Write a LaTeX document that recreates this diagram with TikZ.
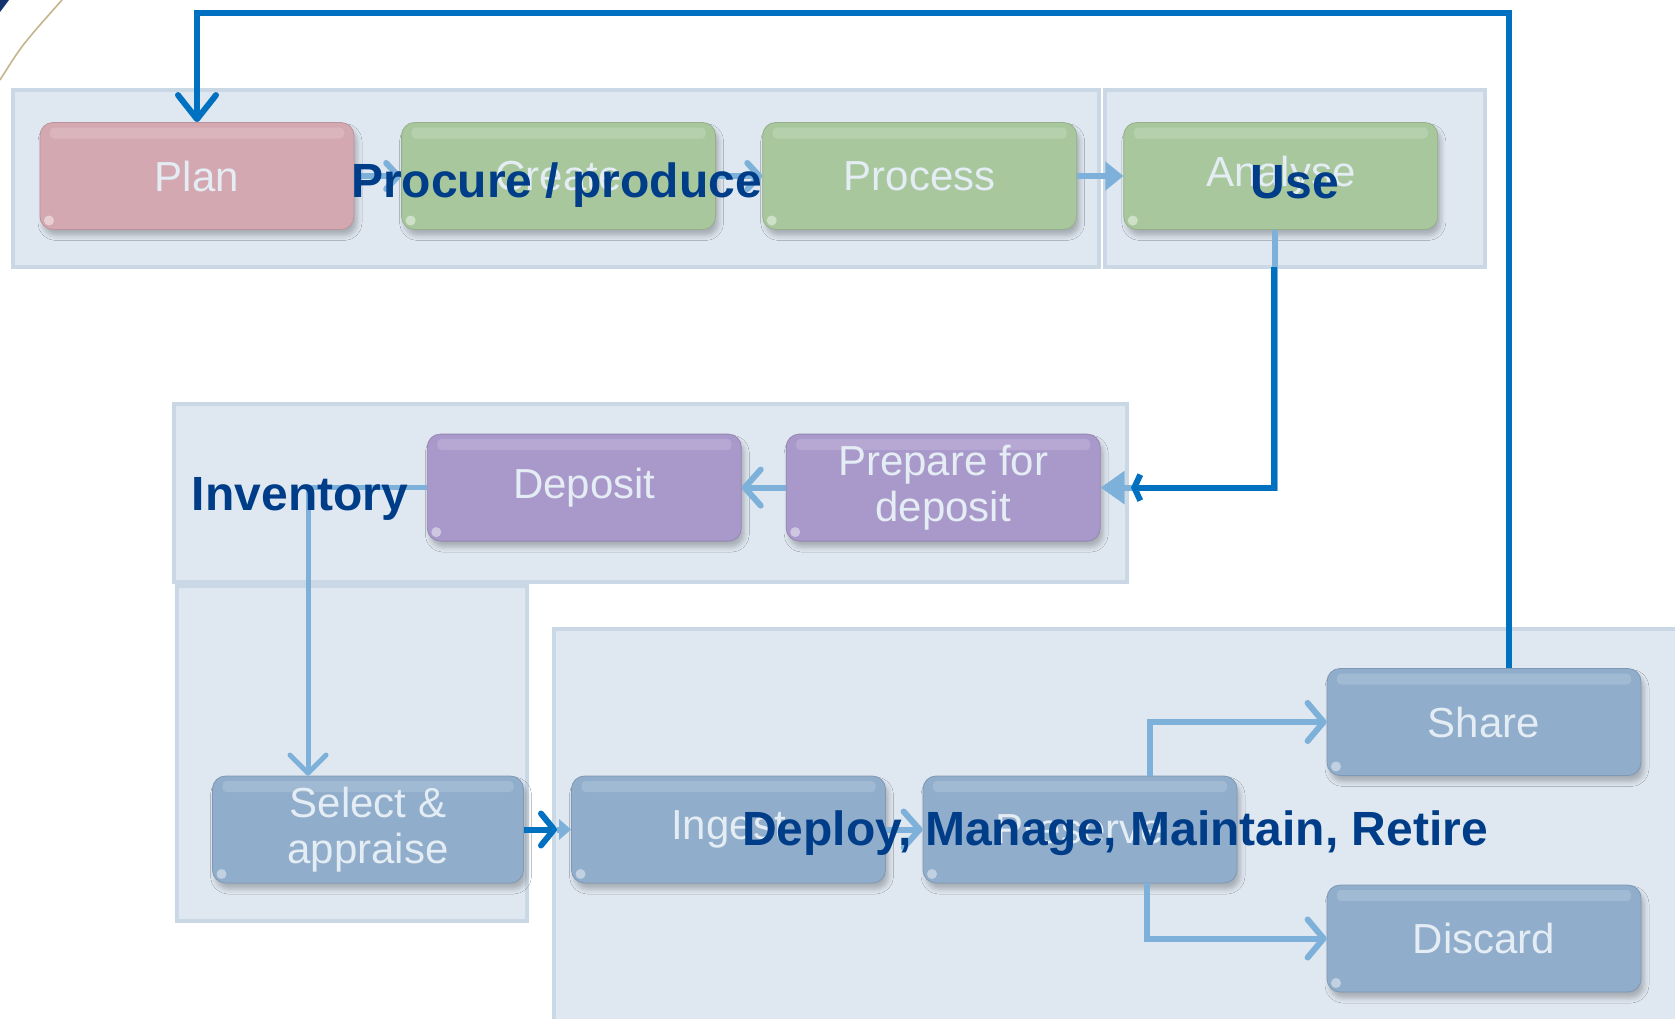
\documentclass[tikz,border=0pt]{standalone}
\usepackage{fontspec}
\setmainfont{Liberation Sans}
\usetikzlibrary{arrows.meta,shadows.blur}

\definecolor{grpfill}{RGB}{223,231,240}
\definecolor{grpline}{RGB}{202,216,230}
\definecolor{planfill}{RGB}{212,168,176}
\definecolor{greenfill}{RGB}{168,199,157}
\definecolor{purplefill}{RGB}{169,152,202}
\definecolor{bluefill}{RGB}{144,173,203}
\definecolor{boxtext}{RGB}{228,236,244}
\definecolor{darkline}{RGB}{0,112,192}
\definecolor{lightline}{RGB}{126,177,217}
\definecolor{headtext}{RGB}{0,61,136}
\definecolor{swoosh}{RGB}{196,182,140}
\definecolor{navycorner}{RGB}{20,50,110}

\begin{document}
\begin{tikzpicture}[x=1pt,y=-1pt,
  group/.style={fill=grpfill, draw=grpline, line width=4pt},
  stage/.style={rectangle, rounded corners=13pt, minimum width=314pt,
    minimum height=107pt, inner sep=2pt, fill=#1, draw=#1!88!black,
    line width=0.8pt, text=boxtext, font=\fontsize{42}{46}\selectfont,
    align=center,
    blur shadow={shadow xshift=3pt, shadow yshift=-6pt, shadow opacity=25,
      shadow blur radius=5pt},
    path picture={
      \fill[white, opacity=0.16, rounded corners=4pt]
        ([xshift=10pt,yshift=-5pt]path picture bounding box.north west)
        rectangle ([xshift=-10pt,yshift=-16pt]path picture bounding box.north east);
      \fill[white, opacity=0.45]
        ([xshift=9pt,yshift=9pt]path picture bounding box.south west) circle (5pt);
    }},
  lightconn/.style={draw=lightline, line width=6pt},
  darkconn/.style={draw=darkline, line width=6pt},
  barb/.style={-{Straight Barb[length=16pt,width=36pt,round]}},
  phase/.style={text=headtext, font=\fontsize{48}{52}\selectfont\bfseries, anchor=base}
]
\path[use as bounding box] (0,0) rectangle (1675,1018);
\clip (0,0) rectangle (1675,1018);
\fill[white] (0,0) rectangle (1675,1018);

% template swooshes in the corners
\fill[navycorner] (0,0) -- (9,0) -- (0,12) -- cycle;
\draw[swoosh, line width=1.6pt] (0,80) .. controls (22,45) .. (62,0);
\draw[swoosh!70!gray, line width=1.2pt] (1675,900) .. controls (1625,955) .. (1578,1018);
\draw[swoosh!60!gray, line width=1pt] (1675,935) .. controls (1640,975) .. (1615,1018);

% phase groups
\draw[group] (13,90) rectangle (1099,267);
\draw[group] (1105,90) rectangle (1485,267);
\draw[group] (174,404) rectangle (1127,582);
\draw[group] (177,586) rectangle (527,921);
\draw[group] (554,629) rectangle (1700,1040);

% stages
\node[stage=planfill]   (plan)     at (197,176)    {Plan};
\node[stage=greenfill]  (create)   at (558.6,176)  {Create};
\node[stage=greenfill]  (process)  at (919.7,176)  {Process};
\node[stage=greenfill]  (analyse)  at (1280.8,176) {Analyse};
\node[stage=purplefill] (deposit)  at (584.3,487.6) {Deposit};
\node[stage=purplefill] (prep)     at (943.2,487.6) {Prepare for\\deposit};
\node[stage=bluefill, minimum width=311pt] (select) at (368,829.5) {Select \&\\appraise};
\node[stage=bluefill]   (ingest)   at (728.5,829.5) {Ingest};
\node[stage=bluefill]   (preserve) at (1080,829.5)  {Preserve};
\node[stage=bluefill]   (share)    at (1484,722)    {Share};
\node[stage=bluefill]   (discard)  at (1484,938.5)  {Discard};

% connectors
\draw[lightconn, -{Straight Barb[length=12pt,width=26pt,round]}] (plan.east) -- (create.west);
\draw[lightconn, -{Straight Barb[length=12pt,width=26pt,round]}] (create.east) -- (process.west);
\draw[lightconn, -{Triangle[length=18pt,width=28pt]}] (process.east) -- (analyse.west);

\coordinate (usedrop) at (1274.4,267);
\coordinate (prepin) at (1131,487.6);
\draw[lightconn, -{Triangle[length=24pt,width=32pt]}] ([xshift=-6pt]analyse.south) |- (prep.east);
\draw[darkconn, -{Straight Barb[length=6pt,width=26pt]}] (usedrop) |- (prepin);

\draw[lightconn, barb] (prep.west) -- (deposit.east);
\draw[lightconn, line width=5pt, -{Straight Barb[length=18pt,width=36pt,round]}]
  (deposit.west) -| ([xshift=-60pt]select.north);

\coordinate (selout) at (557,829.5);
\draw[lightconn, -{Triangle[length=12pt,width=20pt]}] (selout) -- (ingest.west);
\draw[darkconn, -{Straight Barb[length=13pt,width=32pt,round]}] (select.east) -- (selout);

\draw[lightconn, barb] (ingest.east) -- (preserve.west);
\draw[lightconn, -{Straight Barb[length=16pt,width=38pt,round]}]
  ([xshift=70pt]preserve.north) |- (share.west);
\draw[lightconn, -{Straight Barb[length=16pt,width=38pt,round]}]
  ([xshift=67pt]preserve.south) |- (discard.west);

\draw[darkconn, -{Straight Barb[length=24pt,width=38pt,round]}]
  ([xshift=25pt]share.north) -- ++(0,-655) -| (plan.north);

% phase labels
\node[phase] (lprocure) at (556.5,197.6) {Procure / produce};
\node[phase] (luse)     at (1294.7,198) {Use};
\node[phase] (linv)     at (300,510.6)   {Inventory};
\node[phase] (ldeploy)  at (1115,845)    {Deploy, Manage, Maintain, Retire};
\end{tikzpicture}
\end{document}
